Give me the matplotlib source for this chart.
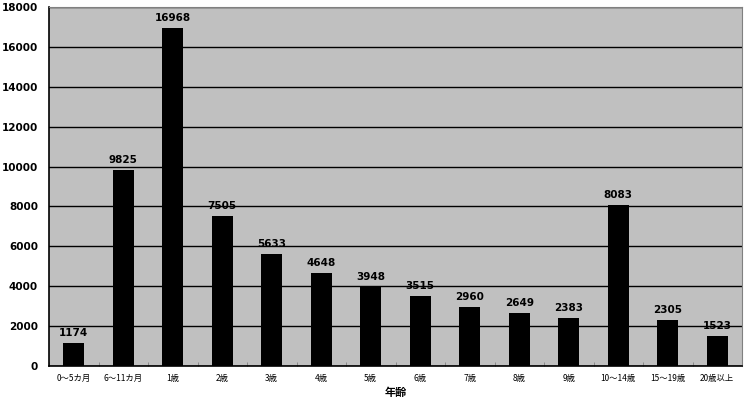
import matplotlib.pyplot as plt
import numpy as np

plt.rcParams['font.family'] = ['Noto Sans CJK JP', 'DejaVu Sans']

categories = ['0～5カ月', '6～11カ月', '1歳', '2歳', '3歳', '4歳', '5歳', '6歳',
              '7歳', '8歳', '9歳', '10～14歳', '15～19歳', '20歳以上']
values = [1174, 9825, 16968, 7505, 5633, 4648, 3948, 3515, 2960, 2649, 2383, 8083, 2305, 1523]

fig = plt.figure(figsize=(7.45, 3.98), dpi=100)
ax = fig.add_axes([49 / 745, 32 / 398, 693 / 745, 359 / 398])
ax.set_facecolor('#c0c0c0')

x = np.arange(len(categories))
ax.bar(x, values, width=0.43, color='black', zorder=3)
for xi, v in zip(x, values):
    ax.text(xi, v + 250, str(v), ha='center', va='bottom', fontsize=7.5,
            fontweight='bold', family='DejaVu Sans', zorder=4)

ax.set_xlim(-0.5, len(categories) - 0.5)
ax.set_ylim(0, 18000)
ax.set_yticks(range(0, 18001, 2000))
ax.set_yticklabels([str(t) for t in range(0, 18001, 2000)], fontsize=7.5,
                   fontweight='bold', family='DejaVu Sans')
ax.yaxis.grid(True, color='black', linewidth=1, zorder=1)
ax.tick_params(axis='y', length=0, pad=8)

ax.set_xticks(x)
ax.set_xticklabels(categories, fontsize=6)
ax.set_xticks(np.arange(-0.5, len(categories), 1), minor=True)
ax.tick_params(axis='x', which='major', length=0, pad=6)
ax.tick_params(axis='x', which='minor', length=3, direction='in', color='#808080')
ax.set_xlabel('年齢', fontsize=8, fontweight='bold', labelpad=2)

for side in ['left', 'bottom']:
    ax.spines[side].set_color('black')
    ax.spines[side].set_linewidth(1.2)
for side in ['top', 'right']:
    ax.spines[side].set_color('#808080')

fig.savefig('out.png', dpi=100)
